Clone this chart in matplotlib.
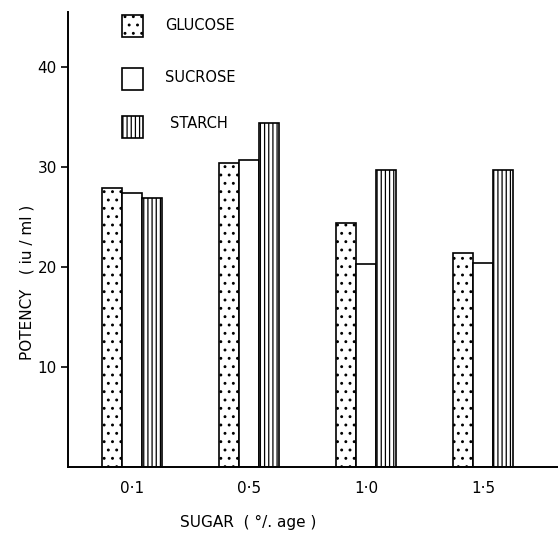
import numpy as np
import matplotlib
matplotlib.use('Agg')
import matplotlib.pyplot as plt
from matplotlib.patches import Rectangle

# Data
sugar_levels = ['0·1', '0·5', '1·0', '1·5']
glucose = [27.9, 30.4, 24.4, 21.4]
sucrose = [27.4, 30.7, 20.3, 20.4]
starch = [26.9, 34.4, 29.7, 29.7]

series_names = ['GLUCOSE', 'SUCROSE', 'STARCH']
series_hatch = ['..', '', '||||']

W, H = 558, 534
plt.rcParams['hatch.linewidth'] = 0.9
plt.rcParams['font.family'] = 'DejaVu Sans'

fig = plt.figure(figsize=(W / 100, H / 100), dpi=100)
ax = fig.add_axes([68 / W, (H - 467) / H, (W - 68) / W, (467 - 12) / H])

x = np.arange(len(sugar_levels))
width = 0.171
for i, (vals, hatch) in enumerate(zip([glucose, sucrose, starch], series_hatch)):
    ax.bar(x + (i - 1) * width, vals, width, color='white', edgecolor='black',
           linewidth=1.2, hatch=hatch)

ax.set_xlim(-0.547, 3.64)
ax.set_ylim(0, 45.5)
ax.set_yticks([10, 20, 30, 40])
ax.set_xticks(x)
ax.set_xticklabels(sugar_levels)
ax.tick_params(axis='x', length=0, pad=10, labelsize=11)
ax.tick_params(axis='y', length=5, width=1.2, pad=3, labelsize=11)

for side in ['top', 'right']:
    ax.spines[side].set_visible(False)
for side in ['left', 'bottom']:
    ax.spines[side].set_linewidth(1.4)

# Axis titles
fig.text(248 / W, 1 - 522 / H, 'SUGAR  ( °/. age )', ha='center', va='center', fontsize=11)
fig.text(27 / W, 1 - 282 / H, 'POTENCY   ( iu / ml )', ha='center', va='center',
         rotation=90, fontsize=11)

# Legend drawn by hand, stacked boxes with labels
box_top = [15, 68, 116]
label_y = [25, 77, 124]
label_x = [165, 165, 170]
for name, hatch, top, ly, lx in zip(series_names, series_hatch, box_top, label_y, label_x):
    fig.patches.append(Rectangle((122 / W, 1 - (top + 22) / H), 21 / W, 22 / H,
                                 transform=fig.transFigure, facecolor='white',
                                 edgecolor='black', linewidth=1.2, hatch=hatch))
    fig.text(lx / W, 1 - ly / H, name, ha='left', va='center', fontsize=10.5)

fig.savefig('out.png', dpi=100)
